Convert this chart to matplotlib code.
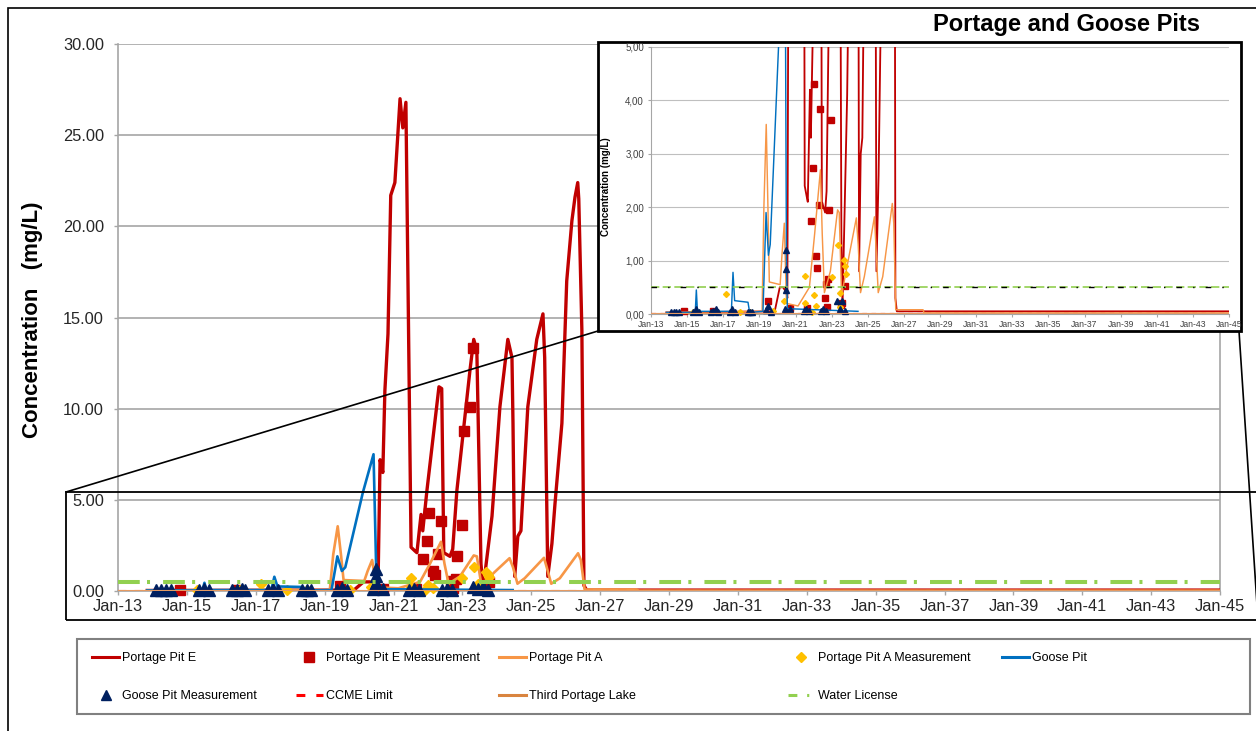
import numpy as np
import matplotlib
matplotlib.use('Agg')
import matplotlib.pyplot as plt
from matplotlib.lines import Line2D
from matplotlib.patches import Rectangle

plt.rcParams['font.family'] = ['Liberation Sans', 'DejaVu Sans']

# ---- data (x in years, Jan-13 = 13) ----
#Portage Pit E model
e_yr = [13.85, 19.85, 20.13, 20.31, 20.50, 20.55, 20.61, 20.69, 20.75, 20.84, 20.92, 21.04, 21.19, 21.27,
        21.36, 21.51, 21.62, 21.68, 21.80, 21.85, 21.97, 22.32, 22.40, 22.46, 22.55, 22.64, 22.72, 22.84,
        23.22, 23.33, 23.42, 23.54, 23.60, 23.86, 24.09, 24.32, 24.44, 24.47, 24.52, 24.61, 24.70, 24.90,
        25.16, 25.34, 25.39, 25.48, 25.60, 25.69, 25.89, 26.03, 26.18, 26.27, 26.35, 26.38, 26.47, 26.53,
        26.61, 45.0]
e_val = [0.03, 0.05, 0.5, 0.5, 0.4, 0.3, 7.2, 6.5, 11.0, 14.1, 21.7, 22.4, 27.0, 25.4,
         26.8, 2.4, 2.2, 2.1, 4.2, 3.3, 5.5, 11.2, 11.1, 2.1, 2.0, 1.9, 2.3, 5.5,
         12.1, 13.8, 13.2, 1.5, 0.1, 4.1, 10.1, 13.8, 12.8, 9.2, 0.8, 3.0, 3.3, 10.1,
         13.8, 15.2, 12.8, 0.8, 2.6, 4.8, 9.2, 17.0, 20.3, 21.6, 22.4, 21.5, 14.3, 0.3,
         0.05, 0.05]
#Portage Pit A model
a_yr = [13.85, 19.15, 19.25, 19.38, 19.48, 19.55, 20.15, 20.25, 20.38, 20.50, 21.14, 21.77, 22.06, 22.38,
        22.48, 22.60, 22.93, 23.33, 23.42, 23.55, 24.00, 24.37, 24.47, 24.60, 24.81, 25.37, 25.45, 25.58,
        25.83, 26.36, 26.44, 26.55, 28.06, 28.12, 45.0]
a_val = [0.03, 0.05, 2.0, 3.55, 1.9, 0.6, 0.55, 1.1, 1.7, 0.2, 0.15, 0.5, 1.5, 2.7,
         1.5, 0.4, 0.8, 1.95, 1.9, 0.35, 1.15, 1.8, 1.3, 0.4, 0.7, 1.82, 1.3, 0.4,
         0.7, 2.07, 1.7, 0.08, 0.08, 0.02, 0.02]
#Goose Pit model
g_yr = [13.85, 15.45, 15.51, 15.57, 17.45, 17.54, 17.63, 18.37, 18.46, 19.20, 19.37, 19.50, 19.60, 20.11,
        20.42, 20.50, 20.55, 24.46]
g_val = [0.03, 0.03, 0.45, 0.05, 0.05, 0.78, 0.25, 0.22, 0.03, 0.05, 1.9, 1.1, 1.3, 5.4,
         7.5, 1.0, 0.1, 0.05]
#Measurements
em_yr = [14.8, 16.45, 19.45, 20.7, 21.65, 21.85, 21.97, 22.03, 22.14, 22.20, 22.29, 22.38, 22.66, 22.70,
         22.74, 22.81, 22.84, 22.99, 23.04, 23.22, 23.30, 23.50, 23.58, 23.76]
em_val = [0.05, 0.06, 0.25, 0.12, 0.11, 1.75, 2.74, 4.3, 1.08, 0.86, 2.04, 3.84, 0.3, 0.56,
          0.14, 0.65, 1.94, 3.63, 8.8, 10.1, 13.3, 0.17, 0.2, 0.52]
am_yr = [15.3, 16.55, 17.15, 17.9, 18.5, 19.73, 20.35, 21.5, 21.5, 21.91, 22.0, 22.14, 23.0, 23.33,
         23.45, 23.45, 23.68, 23.74, 23.77]
am_val = [0.03, 0.03, 0.38, 0.03, 0.03, 0.05, 0.24, 0.72, 0.2, 0.03, 0.35, 0.15, 0.7, 1.3,
          0.39, 0.14, 1.02, 0.9, 0.75]
gm_yr = [14.1, 14.25, 14.4, 14.55, 15.35, 15.5, 15.65, 16.3, 16.45, 16.6, 16.7, 17.35, 17.5, 17.65,
         18.35, 18.5, 18.6, 19.35, 19.5, 19.65, 20.4, 20.5, 20.5, 20.5, 20.7, 21.45, 21.6, 21.75,
         22.4, 22.55, 22.7, 23.32, 23.45, 23.6, 23.75]
gm_val = [0.03, 0.03, 0.03, 0.03, 0.03, 0.1, 0.03, 0.03, 0.05, 0.1, 0.03, 0.03, 0.1, 0.03,
          0.03, 0.03, 0.03, 0.07, 0.15, 0.03, 0.1, 1.2, 0.85, 0.45, 0.1, 0.05, 0.1, 0.05,
          0.05, 0.1, 0.05, 0.24, 0.1, 0.24, 0.05]
#Limits
lim_yr = [13.0, 45.0]
ccme_val = [0.02, 0.02]
third_val = [0.02, 0.02]
wl_val = [0.5, 0.5]

x_ticks = list(range(13, 46, 2))
x_labels = ['Jan-%d' % t for t in x_ticks]

# ---- figure in pixel units ----
W, H = 1256, 731
def fx(px):
    return px / W
def fy(py):
    return 1 - py / H

fig = plt.figure(figsize=(W / 100, H / 100), dpi=100)

#outer frame (only left/top visible)
fig.add_artist(Rectangle((fx(7.5), fy(760)), fx(1300), (760 - 7.5) / H, fill=False, ec='black',
                         lw=1.2, transform=fig.transFigure, zorder=1))

def draw_series(axis, big):
    k = 1.0 if big else 0.55
    axis.plot(e_yr, e_val, color='#C00000', lw=2.4 * k, zorder=3)
    axis.plot(em_yr, em_val, ls='none', marker='s', ms=7 if big else 4, color='#C00000', zorder=4, clip_on=False)
    axis.plot(a_yr, a_val, color='#F79646', lw=1.9 * k, zorder=5)
    axis.plot(am_yr, am_val, ls='none', marker='D', ms=5.5 if big else 3, color='#FFC000', zorder=6, clip_on=False)
    axis.plot(g_yr, g_val, color='#0070C0', lw=1.9 * k, zorder=7)
    axis.plot(gm_yr, gm_val, ls='none', marker='^', ms=8 if big else 4.5, color='#002060', zorder=8, clip_on=False)
    axis.plot(lim_yr, ccme_val, color='#FF0000', lw=1.5 * k, ls=(0, (4, 4)), zorder=9)
    axis.plot(lim_yr, third_val, color='#E59A62', lw=1.5 * k, zorder=9)
    if big:
        axis.plot(lim_yr, wl_val, color='#92D050', lw=2.9, ls=(0, (5.4, 1.8, 0.75, 3.25)), zorder=10)
    else:
        axis.plot(lim_yr, wl_val, color='#92D050', lw=1.2, ls=(0, (5, 2)), zorder=10)
        axis.plot(lim_yr, wl_val, color='black', lw=1.0, ls=(0, (4, 8, 1, 8)), zorder=10)

# ---- main chart ----
ax = fig.add_axes([fx(118), fy(591), (1220 - 118) / W, (591 - 44) / H])
draw_series(ax, True)
ax.set_xlim(13, 45)
ax.set_ylim(0, 30)
ax.set_yticks(np.arange(0, 31, 5))
ax.set_yticklabels(['%.2f' % v for v in np.arange(0, 31, 5)])
ax.set_xticks(x_ticks)
ax.set_xticklabels(x_labels)
ax.grid(axis='y', color='#A6A6A6', lw=1.2)
ax.set_axisbelow(True)
ax.spines['top'].set_visible(False)
for s in ['left', 'right', 'bottom']:
    ax.spines[s].set_color('#A6A6A6')
    ax.spines[s].set_linewidth(1.2)
ax.tick_params(axis='y', length=3, width=1, color='#A6A6A6', pad=7, labelsize=11.8, labelcolor='#262626')
ax.tick_params(axis='x', length=3, width=1, color='#A6A6A6', pad=3, labelsize=11.8, labelcolor='#262626')
fig.text(fx(33), fy(320), 'Concentration   (mg/L)', rotation=90, ha='center', va='center',
         fontsize=16, fontweight='bold')

fig.text(fx(933), fy(24), 'Portage and Goose Pits', ha='left', va='center', fontsize=17, fontweight='bold')

# ---- zoom frame and connectors ----
fig.add_artist(Rectangle((fx(66), fy(620)), (1262 - 66) / W, (620 - 492) / H, fill=False, ec='black',
                         lw=1.3, zorder=2))
fig.add_artist(Line2D([fx(66), fx(598)], [fy(492), fy(331)], color='black', lw=1.2, zorder=2))
fig.add_artist(Line2D([fx(1239), fx(1258)], [fy(331), fy(620)], color='black', lw=1.2, zorder=2))

# ---- inset ----
fig.add_artist(Rectangle((fx(598), fy(331)), (1241 - 598) / W, (331 - 42) / H, facecolor='white',
                         ec='black', lw=2, zorder=2.5))
ax2 = fig.add_axes([fx(651), fy(314), (1229 - 651) / W, (314 - 47) / H], zorder=3)
draw_series(ax2, False)
ax2.set_xlim(13, 45)
ax2.set_ylim(0, 5)
ax2.set_yticks(np.arange(0, 6, 1))
ax2.set_yticklabels([('%.2f' % v).replace('.', ',') for v in np.arange(0, 6, 1)])
ax2.set_xticks(x_ticks)
ax2.set_xticklabels(x_labels)
ax2.grid(axis='y', color='#BFBFBF', lw=0.8)
ax2.set_axisbelow(True)
ax2.spines['top'].set_visible(False)
ax2.spines['right'].set_visible(False)
for s in ['left', 'bottom']:
    ax2.spines[s].set_color('#A6A6A6')
ax2.tick_params(axis='y', length=2, color='#A6A6A6', pad=3, labelsize=7, labelcolor='#404040')
ax2.tick_params(axis='x', length=2, color='#A6A6A6', pad=2, labelsize=6.2, labelcolor='#404040')
fig.text(fx(606), fy(187), 'Concentration (mg/L)', rotation=90, ha='center', va='center',
         fontsize=7, fontweight='bold', zorder=4)

# ---- legend ----
fig.add_artist(Rectangle((fx(77), fy(714)), (1250 - 77) / W, (714 - 639) / H, fill=False, ec='#808080',
                         lw=1.5, zorder=2))
handles = [
    Line2D([], [], color='#C00000', lw=2.2),
    Line2D([], [], ls='none', marker='s', ms=7, color='#C00000'),
    Line2D([], [], color='#F79646', lw=2.2),
    Line2D([], [], ls='none', marker='D', ms=5.5, color='#FFC000'),
    Line2D([], [], color='#0070C0', lw=2.2),
    Line2D([], [], ls='none', marker='^', ms=7, color='#002060'),
    Line2D([], [], color='#FF0000', lw=2.2, ls=(0, (2.9, 3.6))),
    Line2D([], [], color='#D9843F', lw=2.2),
    Line2D([], [], color='#92D050', lw=2.2, ls=(0, (2.9, 3.2, 0.7, 3.2))),
]
labels = ['Portage Pit E', 'Portage Pit E Measurement', 'Portage Pit A', 'Portage Pit A Measurement',
          'Goose Pit', 'Goose Pit Measurement', 'CCME Limit', 'Third Portage Lake', 'Water License']
columns = [[0, 5], [1, 6], [2, 7], [3, 8], [4]]
col_x = [92, 295.5, 499, 787.5, 1002]
for cx, idx in zip(col_x, columns):
    fig.legend([handles[i] for i in idx], [labels[i] for i in idx], loc='upper left',
               bbox_to_anchor=(fx(cx), fy(652)), frameon=False, fontsize=9, borderpad=0,
               borderaxespad=0, handlelength=2.16, handletextpad=0.25, labelspacing=2.1, numpoints=1)

fig.savefig('out.png', dpi=100)
